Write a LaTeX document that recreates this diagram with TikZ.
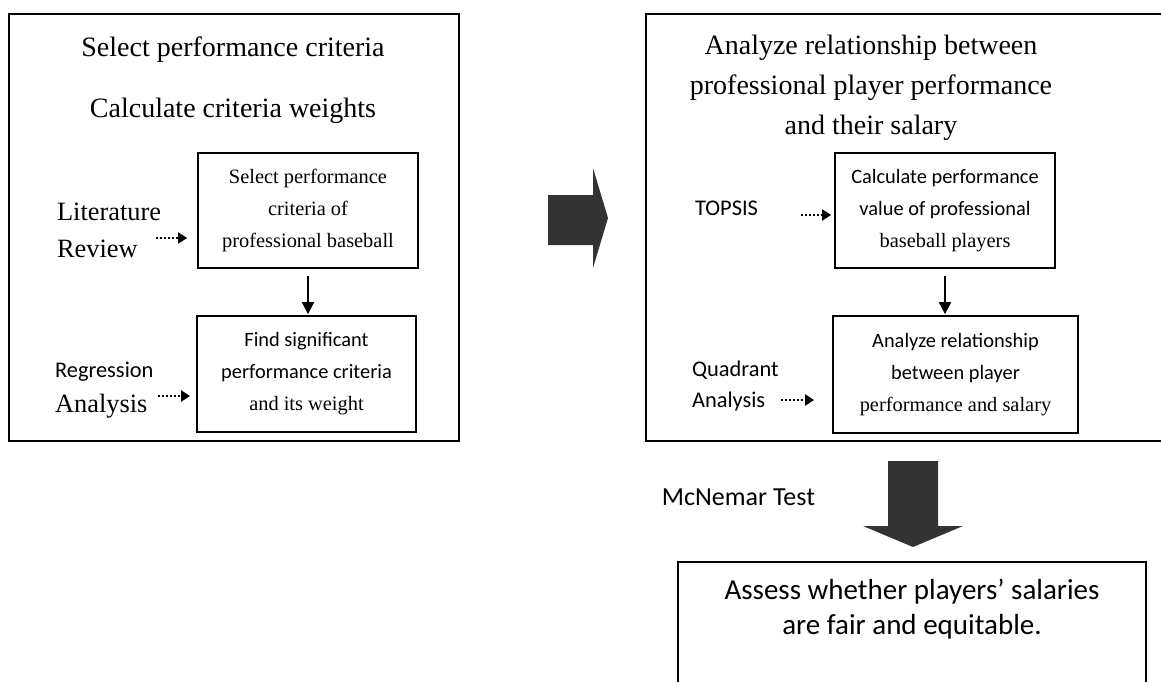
\documentclass[tikz,border=0pt]{standalone}
\usepackage{fontspec}
\setmainfont{Liberation Serif}
\newfontfamily\calfont{Carlito}
\usetikzlibrary{arrows.meta,positioning}

\begin{document}
\begin{tikzpicture}[x=0.5pt,y=-0.5pt,
  frame/.style={draw, line width=0.9pt, inner sep=0pt},
  stagebox/.style={draw, line width=0.9pt, align=center, minimum width=110pt,
  minimum height=57.5pt, inner sep=0pt, font=\fontsize{10.2}{16}\selectfont},
  title/.style={align=center, font=\fontsize{14}{20}\selectfont},
  side/.style={align=left, anchor=base west, font=\fontsize{13.2}{18.5}\selectfont},
  sideSans/.style={align=left, anchor=base west, font=\calfont\fontsize{11.2}{15.5}\selectfont},
  dotarrow/.style={densely dotted, line width=1pt, -{Triangle[length=4.5pt,width=5.5pt]}},
  arrow/.style={line width=1pt, -{Triangle[length=6pt,width=6pt]}},
  bigarrow/.style={fill=black!80}]
\useasboundingbox (0,0) rectangle (1161,681);
\clip (0,0) rectangle (1161,681);

% left stage
\node[frame, minimum width=225pt, minimum height=213.5pt] (stageA) at (234,227.5) {};
\node[title, anchor=base] (titleA) at (233,56) {Select performance criteria};
\node[title, anchor=base] (titleB) at (233,117) {Calculate criteria weights};
\node[stagebox] (sel) at (308,210.5) {Select performance\\criteria of\\professional baseball};
\node[stagebox, minimum width=109.5pt, minimum height=58pt] (find) at (306.5,374)
  {{\calfont Find significant}\\{\calfont performance criteria}\\and its weight};
\node[side] (lit) at (50,257) {Literature\\Review};
\node[sideSans] (reg) at (48,377) {Regression};
\node[side] (ana) at (48,412) {Analysis};
\draw[dotarrow] ([shift={(-41,27.5)}]sel.west) -- ([shift={(-10,27.5)}]sel.west);
\draw[dotarrow] ([shift={(-38,22)}]find.west) -- ([shift={(-6,22)}]find.west);
\draw[arrow, shorten <=3.5pt, shorten >=0.5pt] (sel.south) -- (sel.south |- find.north);

% arrow between stages
\fill[bigarrow] (548,195) -- (593,195) -- (593,168) -- (608,218) -- (593,268)
  -- (593,245) -- (548,245) -- cycle;

% right stage
\node[frame, minimum width=267pt, minimum height=213.5pt] (stageC) at (913,227.5) {};
\node[title] (titleC) at (871,88) {Analyze relationship between\\professional player performance\\and their salary};
\node[stagebox] (calc) at (945,210.5)
  {{\calfont Calculate performance}\\{\calfont value of professional}\\baseball players};
\node[stagebox, minimum width=122.5pt, minimum height=58.5pt] (rel) at (955.5,374.5)
  {{\calfont Analyze relationship}\\{\calfont between player}\\performance and salary};
\node[sideSans] (top) at (688,215) {TOPSIS};
\node[sideSans] (quad) at (685,407) {Quadrant\\Analysis};
\draw[dotarrow] ([shift={(-33,4.5)}]calc.west) -- ([shift={(-3,4.5)}]calc.west);
\draw[dotarrow] ([shift={(-51,25.5)}]rel.west) -- ([shift={(-18,25.5)}]rel.west);
\draw[arrow, shorten <=3.5pt, shorten >=0.5pt] (calc.south) -- (calc.south |- rel.north);

% final assessment
\fill[bigarrow] (888,461) -- (938,461) -- (938,526) -- (963,526) -- (913,547)
  -- (863,526) -- (888,526) -- cycle;
\node[anchor=base east, font=\calfont\fontsize{13}{16}\selectfont] (mcn) at (822,505) {McNemar Test};
\node[frame, minimum width=234pt, minimum height=79pt] (assess) at (912,641) {};
\node[align=center, font=\calfont\fontsize{14.5}{17.5}\selectfont] (assessText) at (912,609)
  {Assess whether players’ salaries\\are fair and equitable.};
\end{tikzpicture}
\end{document}
